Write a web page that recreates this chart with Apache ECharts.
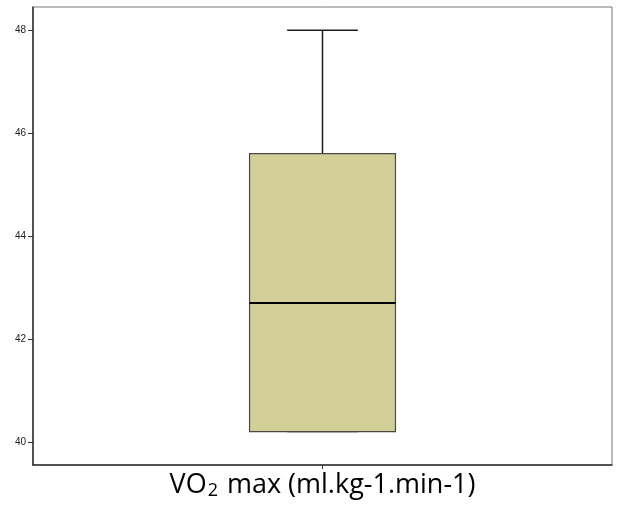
<!DOCTYPE html>
<html>
<head>
<meta charset="utf-8">
<script src="https://cdn.jsdelivr.net/npm/echarts@6/dist/echarts.min.js"></script>
<style>
  html, body { margin: 0; padding: 0; background: #fff; }
  #chart { width: 621px; height: 506px; }
</style>
</head>
<body>
<div id="chart"></div>
<script>
// box summary: [min, Q1, median, Q3, max]
const categories = ['VO2 max']
const boxValues = [[40.2, 40.2, 42.7, 45.6, 48.0]]
const tickValues = [40, 42, 44, 46, 48]

const chart = echarts.init(document.getElementById('chart'))

function renderBox(params, api) {
  const x = api.value(0)
  const lo = api.coord([x, api.value(1)])
  const q1 = api.coord([x, api.value(2)])
  const med = api.coord([x, api.value(3)])
  const q3 = api.coord([x, api.value(4)])
  const hi = api.coord([x, api.value(5)])
  const band = api.size([1, 0])[0]
  const halfBox = band * 0.126
  const halfCap = band * 0.061
  const cx = q1[0]
  const line = { stroke: '#1a1a1a', lineWidth: 1.5 }
  return {
    type: 'group',
    children: [
      { type: 'line', shape: { x1: cx, y1: q3[1], x2: cx, y2: hi[1] }, style: line },
      { type: 'line', shape: { x1: cx - halfCap, y1: hi[1], x2: cx + halfCap, y2: hi[1] }, style: line },
      { type: 'line', shape: { x1: cx, y1: q1[1], x2: cx, y2: lo[1] }, style: line },
      { type: 'line', shape: { x1: cx - halfCap, y1: lo[1], x2: cx + halfCap, y2: lo[1] }, style: line },
      {
        type: 'rect',
        shape: { x: cx - halfBox, y: q3[1], width: halfBox * 2, height: q1[1] - q3[1] },
        style: { fill: '#d3cf98', stroke: '#4a4a40', lineWidth: 1.2 },
      },
      { type: 'line', shape: { x1: cx - halfBox, y1: med[1], x2: cx + halfBox, y2: med[1] }, style: { stroke: '#000', lineWidth: 2 } },
    ],
  }
}

const option = {
  animation: false,
  grid: { left: 33, right: 9, top: 7, bottom: 41, show: true, borderColor: '#777', borderWidth: 1 },
  xAxis: {
    type: 'category',
    data: categories,
    name: '{t|VO}{s|2}{t| max (ml.kg-1.min-1)}',
    nameLocation: 'middle',
    nameGap: 6,
    nameTextStyle: {
      rich: {
        t: { fontFamily: 'Open Sans', fontSize: 27, color: '#000' },
        s: { fontFamily: 'Open Sans', fontSize: 18, color: '#000', padding: [11, 2, 0, 1] },
      },
    },
    axisLine: { lineStyle: { color: '#333', width: 1.5 } },
    axisTick: { show: true, alignWithLabel: true, length: 4, lineStyle: { color: '#333' } },
    axisLabel: { show: false },
    splitLine: { show: false },
  },
  yAxis: {
    type: 'value',
    min: 39.55,
    max: 48.45,
    axisLine: { show: true, lineStyle: { color: '#333', width: 1.5 } },
    axisTick: { show: true, length: 5, customValues: tickValues, lineStyle: { color: '#333' } },
    axisLabel: { customValues: tickValues, fontFamily: 'Liberation Sans', fontSize: 10, color: '#222', margin: 7 },
    splitLine: { show: false },
  },
  series: [
    {
      type: 'custom',
      renderItem: renderBox,
      encode: { x: 0, y: [1, 2, 3, 4, 5] },
      data: boxValues.map((b, i) => [i].concat(b)),
    },
  ],
}

chart.setOption(option)
</script>
</body>
</html>
